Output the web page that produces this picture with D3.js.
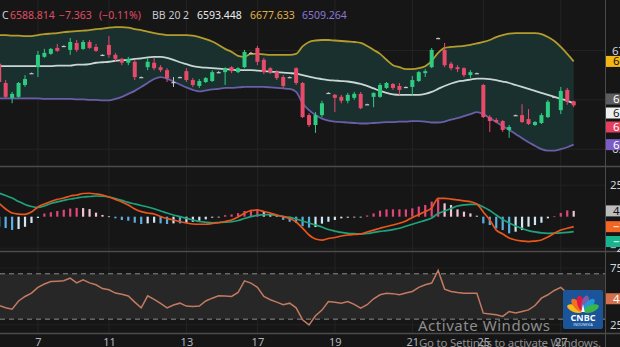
<!DOCTYPE html>
<html><head><meta charset="utf-8">
<script src="https://cdn.jsdelivr.net/npm/d3@7"></script>
<style>
html,body{margin:0;padding:0;background:#161616;overflow:hidden}
svg{display:block}
text{font-family:"Noto Sans",Roboto,sans-serif}
</style></head><body>
<svg id="chart" width="620" height="347"></svg>
<script>
// ---------------- DATA ----------------
const dayLabels   = ["7","11","13","17","19","21","25","27"];
const dayLabelIdx = [6,17,29,40,52,64,75,87];

const open = [6673,6634,6604,6606,6630,6654,6666,6687,6693,6705,
6709,6701,6715,6703,6717,6707,6691,6711,6691,6683,
6675,6677,6646,6666,6675,6666,6660,6636,6646,6658,
6640,6628,6636,6638,6656,6656,6666,6656,6666,6695,
6705,6681,6664,6656,6646,6646,6664,6634,6569,6549,
6569,6614,6610,6606,6598,6604,6612,6591,6606,6606,
6624,6632,6628,6626,6626,6638,6654,6666,6725,6701,
6673,6666,6664,6650,6654,6630,6565,6559,6557,6539,
6569,6569,6561,6549,6553,6565,6606,6579,6620,6597];
const high = [6681,6640,6616,6636,6650,6655,6699,6703,6705,6713,
6710,6725,6721,6721,6721,6713,6692,6729,6695,6685,
6687,6681,6647,6685,6685,6670,6664,6646,6647,6664,
6644,6642,6646,6660,6658,6666,6668,6666,6701,6697,
6709,6685,6666,6660,6650,6647,6666,6636,6573,6575,
6598,6615,6612,6610,6614,6616,6616,6592,6615,6634,
6636,6634,6634,6627,6648,6658,6662,6705,6726,6715,
6677,6670,6666,6660,6655,6632,6569,6563,6559,6549,
6570,6591,6581,6557,6573,6600,6607,6626,6624,6598.5];
const low = [6632,6604,6593,6604,6626,6653,6646,6685,6691,6697,
6708,6691,6697,6701,6703,6697,6690,6685,6677,6670,
6670,6640,6645,6660,6660,6656,6636,6626,6645,6636,
6626,6624,6634,6636,6654,6630,6654,6654,6664,6693,
6670,6652,6652,6640,6624,6645,6630,6563,6545,6533,
6565,6613,6575,6593,6593,6600,6581,6590,6585,6604,
6622,6620,6610,6625,6608,6636,6646,6664,6724,6666,
6660,6656,6646,6644,6653,6563,6535,6553,6535,6523,
6568,6553,6549,6547,6551,6563,6605,6571,6590,6585];
const close = [6636,6606,6612,6634,6642,6654,6691,6695,6703,6699,
6709,6717,6701,6717,6705,6699,6691,6691,6683,6675,
6683,6646,6646,6677,6664,6660,6644,6636,6646,6640,
6630,6638,6644,6656,6656,6664,6658,6664,6697,6695,
6677,6656,6656,6644,6628,6646,6634,6565,6549,6569,
6593,6614,6604,6598,6610,6612,6583,6591,6614,6630,
6634,6624,6620,6626,6640,6656,6658,6701,6725,6670,
6664,6662,6650,6656,6654,6565,6557,6555,6539,6545,
6569,6555,6551,6555,6569,6596,6606,6618,6596.177,6588.814];

const bbUpper = [6731,6731,6730,6730,6729,6729,6731,6733,6734,6735,
6737,6738,6739,6740,6741,6743,6744,6746,6747,6747,
6746,6743,6741,6738,6735,6733,6731,6731,6731,6731,
6730,6727,6723,6718,6711,6703,6697,6689,6687,6693,
6693,6692,6691,6691,6691,6691,6693,6708,6717,6720,
6721,6721,6720,6719,6718,6717,6715,6709,6701,6693,
6681,6670,6666,6662,6662,6664,6668,6679,6695,6705,
6707,6708,6709,6711,6714,6717,6721,6727,6731,6734,
6735,6735,6735,6735,6733,6727,6719,6707,6693,6677.633];
const bbMid = [6668,6668,6668,6668,6668,6668,6668,6668,6668,6669,
6669,6669,6671,6671,6672,6675,6676,6677,6679,6680,
6681,6683,6684,6686,6687,6687,6685,6681,6676,6672,
6668,6666,6665,6664,6663,6662,6661,6660,6660,6660,
6659,6658,6657,6656,6655,6654,6653,6650,6647,6644,
6642,6640,6639,6638,6637,6635,6632,6628,6623,6618,
6614,6611,6610,6610,6610,6610,6612,6616,6622,6628,
6633,6637,6639,6641,6643,6643,6642,6640,6637,6634,
6630,6626,6622,6618,6614,6610,6606,6602,6598,6593.448];
const bbLower = [6603,6603,6603,6603,6603,6603,6603,6602,6602,6602,
6602,6602,6601,6601,6600,6600,6599,6599,6602,6606,
6612,6618,6626,6634,6642,6646,6643,6637,6631,6625,
6620,6617,6619,6621,6622,6624,6624,6625,6626,6626,
6626,6626,6625,6624,6623,6622,6616,6593,6579,6569,
6562,6558,6556,6555,6554,6553,6552,6552,6553,6554,
6555,6555,6556,6556,6557,6557,6556,6554,6554,6556,
6560,6563,6567,6571,6575,6571,6563,6555,6547,6539,
6531,6522,6514,6507,6500,6497,6497,6500,6504,6509.264];

const macdLine = [10.5,6.1,2.9,2.1,1.9,3.7,7.7,10.1,12.1,13.7,
14.8,16.4,17.2,18.4,18.6,18.0,17.2,15.6,13.7,11.7,
9.3,6.1,4.0,2.9,2.1,0.2,-1.4,-2.6,-4.0,-5.0,
-5.8,-6.0,-6.0,-5.4,-4.8,-3.8,-2.6,-0.2,2.7,4.9,
5.3,4.1,2.9,1.3,0,-1.4,-4.2,-9.0,-14.5,-17.7,
-18.5,-17.3,-16.5,-15.3,-14.5,-14.1,-13.7,-12.1,-10.6,-9.2,
-7.8,-6.6,-5.2,-3.4,-0.6,1.7,4.1,6.9,14.6,14.6,
14.0,13.3,12.6,11.9,10.1,3.7,-2.6,-10.6,-13.7,-16.9,
-18.5,-19.3,-19.8,-19.3,-18.5,-16.1,-13.2,-10.6,-9.2,-7.9];
const signalLine = [18.6,16.8,14.8,12.1,9.7,8.1,7.3,8.5,10.5,11.7,
12.9,14.0,14.8,15.6,16.0,16.4,16.2,15.6,14.4,12.9,
11.3,10.1,8.9,7.7,6.3,4.5,2.9,1.3,0,-1.3,
-2.6,-3.8,-4.4,-4.8,-4.6,-4.4,-4.0,-3.0,-1.4,0,
1.0,1.7,1.7,1.0,0.2,-0.6,-1.8,-3.4,-5.0,-6.6,
-8.2,-10.2,-11.4,-12.5,-13.2,-13.5,-13.7,-13.3,-12.5,-11.7,
-11.0,-10.2,-9.2,-7.6,-6.0,-4.4,-2.9,-1.0,2.5,4.5,
6.5,8.5,9.3,9.8,9.7,7.7,4.9,1.3,-2.2,-5.0,
-7.4,-9.4,-11.0,-12.1,-12.9,-13.2,-13.1,-12.9,-12.5,-11.9];
const macdHist = [-8,-9,-10.5,-9.8,-8,-5,-1,2.5,3.5,4.5,
5.5,6.5,7,6.8,6,3.2,1.4,0.3,-1.3,-2.6,
-3.2,-4.8,-5.8,-5.3,-4.8,-5.3,-5.8,-5.3,-5.3,-4.8,
-4,-3.2,-2.1,-0.8,-0.3,1.2,1.8,2.8,4.5,5.5,
6,4.2,2.4,0.8,-2.5,-4,-5,-7.5,-8.7,-8.2,
-5.5,-4,-2.6,-1.3,-0.8,-0.5,-0.2,1.0,2.6,4.8,
5.8,5.8,5.8,5.8,6.6,8,9.3,11.9,13.8,10.6,
9.3,5.8,4,2.6,0.8,-5.3,-6.6,-9.3,-10.6,-13.2,
-11.9,-10.6,-7.9,-6.6,-4.8,-1.3,0.3,3,5,4.6];

const rsi = [42,40,38.8,46,50,52.9,58,61,63.2,63.5,
63.8,66.2,62,64.7,62,60.3,57,55.9,53,52,
50.5,45,40,50.6,47.5,44,40,42.5,44.1,41.5,
41.2,41.5,46,48.5,50.6,50.5,50,53.5,63.8,61.8,
58,50,47.1,45,42.7,44.1,40,29.4,25,33,
38,45.6,45,44.1,45.6,43,39.7,42.7,48,51.5,
52.9,52.5,51.5,53,54.4,58,60.3,61.8,72.9,56.5,
54.4,53.5,52.9,52.9,52.9,35.3,34.5,33.8,32.4,36.8,
35.5,36.8,38.2,42,48.5,51.5,55.3,58,53,48];

const priceTicks = [6500,6600,6700];
const macdTicks = [-25,25];
const rsiTicks = [25,75];
const rsiBands = [30,70];

const lastChange = -7.363, lastChangePct = -0.11;

// ---------------- DRAW ----------------
const svg = d3.select("#chart");
const AX = 605;        // price axis border
const n = close.length;
const idx = d3.range(n);

const x  = d3.scaleLinear().domain([0, n-1]).range([-0.8, 573.7]);
const yP = d3.scaleLinear().domain([6466, 6802]).range([166, 0]);
const yM = d3.scaleLinear().domain([-27.2, 39.4]).range([251, 167]);
const yR = d3.scaleLinear().domain([17.8, 89.2]).range([333, 252]);

svg.append("rect").attr("width",620).attr("height",347).attr("fill","#161616");

const defs = svg.append("defs");
[["cMain",0,0,AX,166],["cMacd",0,167,AX,84],["cRsi",0,252,AX,81]].forEach(c=>{
  defs.append("clipPath").attr("id",c[0]).append("rect")
    .attr("x",c[1]).attr("y",c[2]).attr("width",c[3]).attr("height",c[4]);
});

// vertical grid
svg.append("g").selectAll("line").data(dayLabelIdx).join("line")
  .attr("x1",d=>x(d)).attr("x2",d=>x(d)).attr("y1",0).attr("y2",333)
  .attr("stroke","#242424").attr("stroke-width",1);
// horizontal grid
svg.append("g").selectAll("line").data(priceTicks).join("line")
  .attr("x1",0).attr("x2",AX).attr("y1",d=>yP(d)).attr("y2",d=>yP(d))
  .attr("stroke","#242424");
svg.append("g").selectAll("line").data(macdTicks).join("line")
  .attr("x1",0).attr("x2",AX).attr("y1",d=>yM(d)).attr("y2",d=>yM(d))
  .attr("stroke","#222");
svg.append("g").selectAll("line").data(rsiTicks).join("line")
  .attr("x1",0).attr("x2",AX).attr("y1",d=>yR(d)).attr("y2",d=>yR(d))
  .attr("stroke","#222");

// ---- main panel
const main = svg.append("g").attr("clip-path","url(#cMain)");
main.append("path").datum(idx)
  .attr("d", d3.area().x(i=>x(i)).y0(i=>yP(bbLower[i])).y1(i=>yP(bbUpper[i])).curve(d3.curveMonotoneX))
  .attr("fill","#1a302f");
const bbLine = arr => d3.line().x(i=>x(i)).y(i=>yP(arr[i])).curve(d3.curveMonotoneX);
main.append("path").datum(idx).attr("d",bbLine(bbUpper)).attr("fill","none").attr("stroke","#b39c2c").attr("stroke-width",1.8);
main.append("path").datum(idx).attr("d",bbLine(bbMid)).attr("fill","none").attr("stroke","#c8d6d4").attr("stroke-width",1.8);
main.append("path").datum(idx).attr("d",bbLine(bbLower)).attr("fill","none").attr("stroke","#6a5ea8").attr("stroke-width",1.8);

const UP="#2ecc80", DN="#e84b6a", FLAT="#c9c9c9";
const cCol = i => close[i]>open[i]?UP:(close[i]<open[i]?DN:FLAT);
const cg = main.append("g").selectAll("g").data(idx).join("g");
cg.append("line").attr("x1",i=>x(i)).attr("x2",i=>x(i))
  .attr("y1",i=>yP(high[i])).attr("y2",i=>yP(low[i]))
  .attr("stroke",cCol).attr("stroke-width",1);
cg.append("rect").attr("x",i=>x(i)-2).attr("width",4)
  .attr("y",i=>yP(Math.max(open[i],close[i])))
  .attr("height",i=>Math.max(1.2,Math.abs(yP(open[i])-yP(close[i]))))
  .attr("fill",cCol);

// ---- MACD panel
const mg = svg.append("g").attr("clip-path","url(#cMacd)");
const hCol = i=>{
  const v=macdHist[i], p=i>0?macdHist[i-1]:v;
  if(v>=0) return v>=p?"#e0457b":"#f2c3d3";
  return v<=p?"#5aaee3":"#cfe6f5";
};
mg.append("g").selectAll("rect").data(idx).join("rect")
  .attr("x",i=>x(i)-1.1).attr("width",2.2)
  .attr("y",i=>Math.min(yM(0),yM(macdHist[i])))
  .attr("height",i=>Math.max(0.8,Math.abs(yM(macdHist[i])-yM(0))))
  .attr("fill",hCol);
mg.append("path").datum(idx).attr("d",d3.line().x(i=>x(i)).y(i=>yM(signalLine[i])).curve(d3.curveMonotoneX))
  .attr("fill","none").attr("stroke","#1fa37c").attr("stroke-width",1.7);
mg.append("path").datum(idx).attr("d",d3.line().x(i=>x(i)).y(i=>yM(macdLine[i])).curve(d3.curveMonotoneX))
  .attr("fill","none").attr("stroke","#e8561c").attr("stroke-width",1.7);

// ---- RSI panel
const rg = svg.append("g").attr("clip-path","url(#cRsi)");
rg.append("rect").attr("x",0).attr("width",AX)
  .attr("y",yR(rsiBands[1])).attr("height",yR(rsiBands[0])-yR(rsiBands[1]))
  .attr("fill","#272728");
rg.append("g").selectAll("line").data(rsiBands).join("line")
  .attr("x1",0).attr("x2",AX).attr("y1",d=>yR(d)).attr("y2",d=>yR(d))
  .attr("stroke","#8a8a8a").attr("stroke-dasharray","5,4").attr("stroke-width",1);
rg.append("path").datum(idx).attr("d",d3.line().x(i=>x(i)).y(i=>yR(rsi[i])))
  .attr("fill","none").attr("stroke","#c27a60").attr("stroke-width",1.5);

// separators
[166.5,251.5,333.5].forEach(yy=>svg.append("line").attr("x1",0).attr("x2",620)
  .attr("y1",yy).attr("y2",yy).attr("stroke","#4b4b4b").attr("stroke-width",1.5));
svg.append("line").attr("x1",AX+0.5).attr("x2",AX+0.5).attr("y1",0).attr("y2",347)
  .attr("stroke","#4b4b4b").attr("stroke-width",1);

// axes
function styleAxis(g){
  g.select(".domain").remove();
  g.selectAll(".tick line").remove();
  g.selectAll("text").attr("fill","#d1d4dc").attr("font-size",11.5)
    .attr("font-family","'Noto Sans',Roboto,sans-serif");
}
svg.append("g").attr("transform",`translate(${AX},0)`)
  .call(d3.axisRight(yP).tickValues(priceTicks).tickFormat(d3.format(".3f")).tickSize(0).tickPadding(7))
  .call(styleAxis);
svg.append("g").attr("transform",`translate(${AX},0)`)
  .call(d3.axisRight(yM).tickValues(macdTicks).tickFormat(d3.format(".2f")).tickSize(0).tickPadding(5))
  .call(styleAxis);
svg.append("g").attr("transform",`translate(${AX},0)`)
  .call(d3.axisRight(yR).tickValues(rsiTicks).tickFormat(d3.format(".2f")).tickSize(0).tickPadding(5))
  .call(styleAxis);
svg.append("g").attr("transform","translate(0,334)")
  .call(d3.axisBottom(x).tickValues(dayLabelIdx).tickFormat((d,i)=>dayLabels[i]).tickSize(0).tickPadding(0))
  .call(g=>{styleAxis(g); g.selectAll("text").attr("font-size",11).attr("fill","#b2b5be").attr("dy","0").attr("y",11.5);});

// value boxes on price scale
const boxes = [
  {y:yP(bbUpper[n-1]), bg:"#f2b713", fg:"#131313", t:d3.format(".3f")(bbUpper[n-1])},
  {y:99,  bg:"#5e5e5e", fg:"#ffffff", t:d3.format(".3f")(close[n-2])},
  {y:113, bg:"#eef0f0", fg:"#131313", t:d3.format(".3f")(bbMid[n-1])},
  {y:127, bg:"#e4405e", fg:"#ffffff", t:d3.format(".3f")(close[n-1])},
  {y:yP(bbLower[n-1]), bg:"#7b5cc6", fg:"#ffffff", t:d3.format(".3f")(bbLower[n-1])},
  {y:yM(macdHist[n-1]), bg:"#bdbdbd", fg:"#131313", t:d3.format(".3f")(macdHist[n-1])},
  {y:yM(macdLine[n-1]), bg:"#f26522", fg:"#ffffff", t:d3.format(".3f")(macdLine[n-1]).replace("-","−")},
  {y:241.5, bg:"#17b58d", fg:"#ffffff", t:d3.format(".3f")(signalLine[n-1]).replace("-","−")},
  {y:yR(rsi[n-1]), bg:"#d4714a", fg:"#ffffff", t:d3.format(".2f")(rsi[n-1])}
];
const bg = svg.append("g").selectAll("g").data(boxes).join("g")
  .attr("transform",d=>`translate(${AX+1},${d.y})`);
bg.append("rect").attr("x",0).attr("y",-5.5).attr("width",50).attr("height",11).attr("fill",d=>d.bg);
bg.append("text").attr("x",7).attr("y",4).attr("font-size",11.5).attr("fill",d=>d.fg).text(d=>d.t);

// legend
const fmt3 = d3.format(".3f");
const legend = [
  {x:2,   t:"C", c:"#d1d4dc"},
  {x:10,  t:fmt3(close[n-1]), c:"#e04c64"},
  {x:59,  t:fmt3(lastChange).replace("-","−"), c:"#e04c64"},
  {x:99,  t:"(" + d3.format(".2f")(lastChangePct).replace("-","−") + "%)", c:"#e04c64"},
  {x:152, t:"BB 20 2", c:"#c9c9c9"},
  {x:197, t:fmt3(bbMid[n-1]), c:"#ececec"},
  {x:250, t:fmt3(bbUpper[n-1]), c:"#e3b341"},
  {x:302, t:fmt3(bbLower[n-1]), c:"#8b78d6"}
];
svg.append("g").selectAll("text").data(legend).join("text")
  .attr("x",d=>d.x).attr("y",19).attr("font-size",10.5).attr("fill",d=>d.c).text(d=>d.t);

// watermark
svg.append("text").attr("x",418).attr("y",331).attr("font-size",15)
  .attr("textLength",132).attr("fill","#8d8d8d").text("Activate Windows");
svg.append("text").attr("x",419).attr("y",346.5).attr("font-size",11.5)
  .attr("textLength",182).attr("fill","#8d8d8d").text("Go to Settings to activate Windows.");

// CNBC logo
const logo = svg.append("g").attr("transform","translate(563,290)");
logo.append("rect").attr("width",40).attr("height",39).attr("rx",2).attr("fill","#1b5499");
const feathers = ["#fdb913","#f37021","#e3173e","#7b5ea7","#1f9ad6","#3ab54a"];
const ang = [-68,-41,-14,14,41,68];
logo.append("g").selectAll("ellipse").data(feathers).join("ellipse")
  .attr("cx",20).attr("cy",13).attr("rx",3.6).attr("ry",8)
  .attr("transform",(d,i)=>`rotate(${ang[i]},20,22)`)
  .attr("fill",d=>d);
logo.append("path").attr("d","M18.3,22 L20,14 L21.7,22 Z").attr("fill","#ffffff");
logo.append("text").attr("x",20).attr("y",31).attr("text-anchor","middle")
  .attr("font-size",9).attr("font-weight","bold").attr("fill","#ffffff").text("CNBC");
logo.append("text").attr("x",20).attr("y",36).attr("text-anchor","middle")
  .attr("font-size",3.6).attr("fill","#dbe6f5").text("INDONESIA");
</script>
</body></html>
